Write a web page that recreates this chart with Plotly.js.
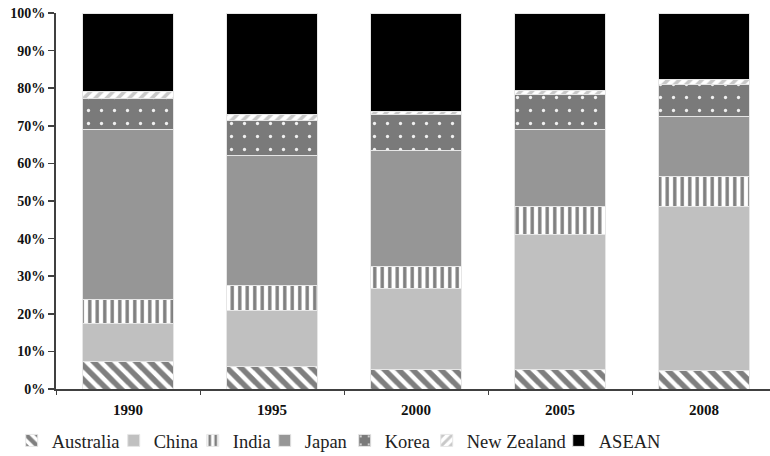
<!DOCTYPE html>
<html>
<head>
<meta charset="utf-8">
<script src="https://cdn.plot.ly/plotly-3.0.1.min.js"></script>
<style>html,body{margin:0;padding:0;background:#fff;}#chart{width:770px;height:456px;}</style>
</head>
<body>
<div id="chart"></div>
<script>
const years = ['1990', '1995', '2000', '2005', '2008'];
const australia = [7.3, 5.9, 5.2, 5.3, 4.9];
const china = [10.0, 15.1, 21.6, 35.7, 43.6];
const india = [6.6, 6.4, 5.7, 7.5, 8.1];
const japan = [45.2, 34.6, 30.9, 20.6, 16.0];
const korea = [8.1, 9.4, 9.5, 9.3, 8.5];
const newZealand = [1.8, 1.5, 1.0, 1.1, 1.1];
const asean = [21.0, 27.1, 26.1, 20.5, 17.8];
const seriesNames = ['Australia', 'China', 'India', 'Japan', 'Korea', 'New Zealand', 'ASEAN'];
const yTicks = [0, 10, 20, 30, 40, 50, 60, 70, 80, 90, 100];

const lineStyle = {color: '#e6e6e6', width: 1};
const legendWidths = [57, 34, 27, 35, 37, 87, 60];
const styles = [
  {color: '#7f7f7f', pattern: {shape: '\\', fgcolor: '#7f7f7f', bgcolor: '#ffffff', size: 10, solidity: 0.55}},
  {color: '#c0c0c0'},
  {color: '#7f7f7f', pattern: {shape: '|', fgcolor: '#7f7f7f', bgcolor: '#ffffff', size: 7.5, solidity: 0.45}},
  {color: '#969696'},
  {color: '#7a7a7a', pattern: {shape: '.', fgcolor: '#f0f0f0', bgcolor: '#7a7a7a', size: 13, solidity: 0.05}},
  {color: '#c8c8c8', pattern: {shape: '/', fgcolor: '#c8c8c8', bgcolor: '#ffffff', size: 8, solidity: 0.45}},
  {color: '#000000'}
];
const values = [australia, china, india, japan, korea, newZealand, asean];

const traces = values.map((v, i) => {
  const m = {color: styles[i].color, line: lineStyle};
  if (styles[i].pattern) m.pattern = styles[i].pattern;
  return {type: 'bar', name: seriesNames[i], x: years, y: v, marker: m, hoverinfo: 'skip',
    legendwidth: legendWidths[i]};
});

const layout = {
  width: 770, height: 456,
  margin: {l: 56, r: 0, t: 13, b: 67, autoexpand: false},
  paper_bgcolor: '#ffffff', plot_bgcolor: '#ffffff',
  barmode: 'stack', bargap: 0.37,
  showlegend: true,
  legend: {orientation: 'h', x: -0.062, xanchor: 'left', y: -0.138, yanchor: 'middle',
    font: {family: 'Liberation Serif, Times New Roman, serif', size: 18.5, color: '#222'},
    itemwidth: 30, traceorder: 'normal', bgcolor: 'rgba(0,0,0,0)'},
  xaxis: {type: 'category', range: [-0.5, 4.458], showgrid: false, zeroline: false,
    showline: true, linecolor: '#404040', linewidth: 2,
    ticks: 'outside', tickson: 'boundaries', ticklen: 4, tickcolor: '#404040', tickwidth: 1,
    ticklabelstandoff: 6,
    tickfont: {family: 'Liberation Serif, Times New Roman, serif', size: 15, weight: 'bold', color: '#111'}},
  yaxis: {range: [0, 100], tickvals: yTicks, ticktext: yTicks.map(t => t + '%'),
    showgrid: false, zeroline: false, showline: true, linecolor: '#404040', linewidth: 2,
    ticks: 'outside', ticklen: 6, tickcolor: '#404040', tickwidth: 1.5,
    tickfont: {family: 'Liberation Serif, Times New Roman, serif', size: 14, weight: 'bold', color: '#111'}}
};

Plotly.newPlot('chart', traces, layout, {displayModeBar: false, staticPlot: true});
</script>
</body>
</html>
